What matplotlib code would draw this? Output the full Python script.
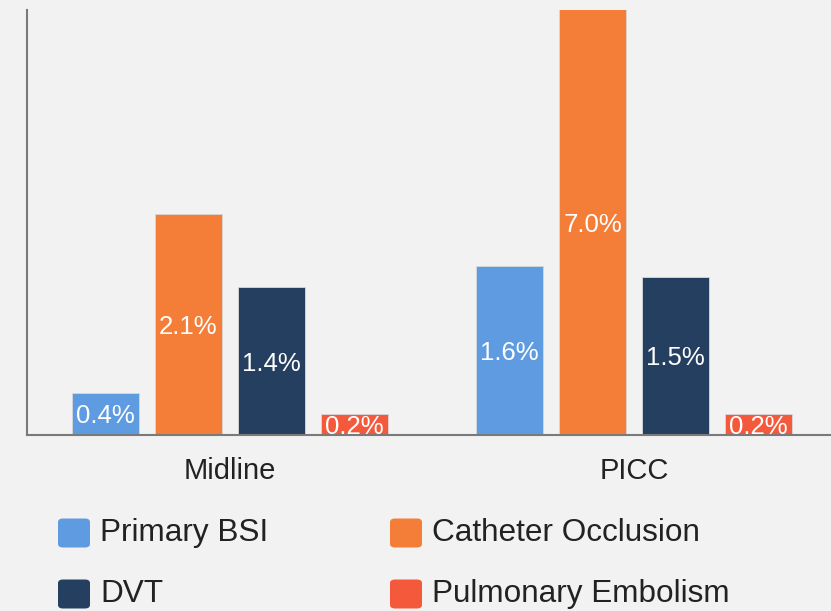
import matplotlib
matplotlib.use("Agg")
import matplotlib.pyplot as plt
from matplotlib.patches import FancyBboxPatch
import numpy as np

categories = ["Midline", "PICC"]
series = ["Primary BSI", "Catheter Occlusion", "DVT", "Pulmonary Embolism"]
values = {
    "Primary BSI": [0.4, 1.6],
    "Catheter Occlusion": [2.1, 7.0],
    "DVT": [1.4, 1.5],
    "Pulmonary Embolism": [0.2, 0.2],
}
colors = ["#5E9BE1", "#F47D38", "#243F5F", "#F4593C"]
bg = "#F2F2F2"
ymax = 4.03

plt.rcParams['font.family'] = ['Liberation Sans', 'DejaVu Sans']

fig = plt.figure(figsize=(8.31, 6.11), dpi=100, facecolor=bg)
ax = fig.add_axes([27/831, 1-435/611, 1-27/831, (435-10)/611])
ax.set_facecolor(bg)

x = np.arange(len(categories))
step = 0.2054
width = 0.166
for i, s in enumerate(series):
    offs = (i - 1.5) * step
    vals = values[s]
    ax.bar(x + offs, vals, width, color=colors[i], edgecolor="#d8d8d8", linewidth=0.6, zorder=2)
    for xi, v in zip(x, vals):
        ax.text(xi + offs, min(v, ymax) / 2, f"{v:.1f}%", ha="center", va="center_baseline",
                color="white", fontsize=18.5, clip_on=True, zorder=3)

ax.set_ylim(0, ymax)
ax.set_xlim(-0.5025, 1.4876)
ax.set_xticks(x)
ax.set_xticklabels(categories, fontsize=21, color="#222222")
ax.tick_params(axis="x", length=0, pad=16)
ax.set_yticks([])
for sp in ["top", "right"]:
    ax.spines[sp].set_visible(False)
ax.spines["left"].set_color("#7a7a7a")
ax.spines["bottom"].set_color("#7a7a7a")
ax.spines["left"].set_linewidth(1.5)
ax.spines["bottom"].set_linewidth(1.5)

# legend (manual, 2 columns)
W, H = 831, 611
pos = [(58, 533), (390, 533), (58, 594), (390, 594)]
order = [0, 1, 2, 3]
for (px, py), i in zip(pos, order):
    w, h = 32, 29
    p = FancyBboxPatch(((px) / W, 1 - (py + h / 2) / H), w / W, h / H,
                       boxstyle="round,pad=0,rounding_size=0.006",
                       transform=fig.transFigure, facecolor=colors[i], edgecolor="none")
    fig.patches.append(p)
    fig.text((px + w + 10) / W, 1 - py / H, series[i], ha="left", va="center",
             fontsize=22.7, color="#222222")

fig.savefig("out.png", dpi=100, facecolor=bg)
